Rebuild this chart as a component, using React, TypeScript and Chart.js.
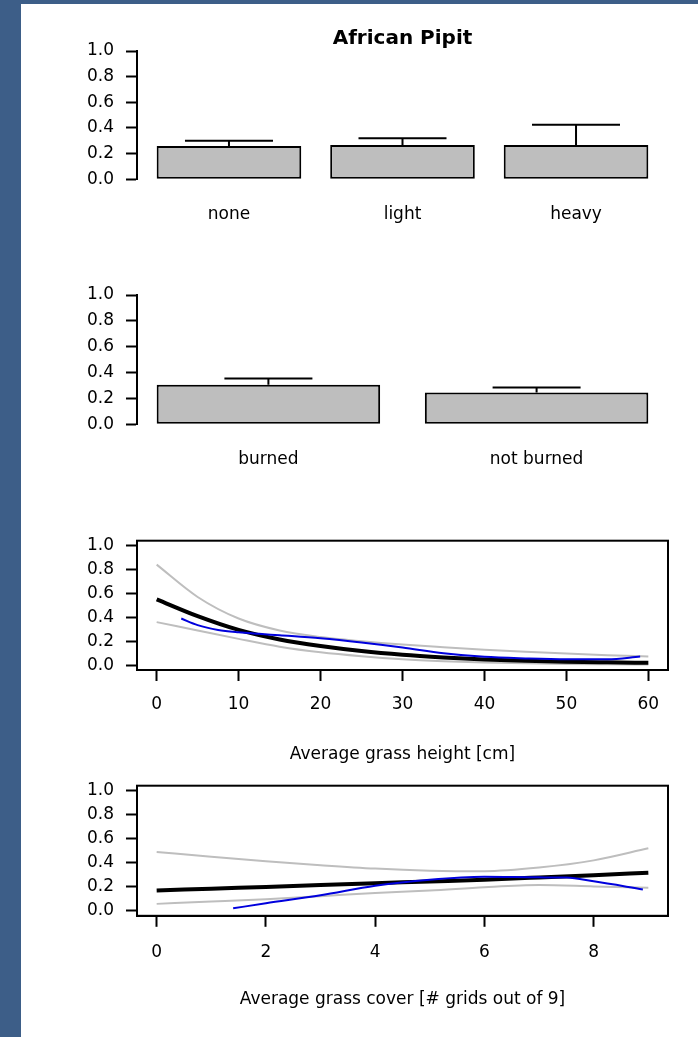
import React, { useEffect, useRef } from 'react';
import { Chart, registerables } from 'chart.js';

Chart.register(...registerables);

const FONT = '"DejaVu Sans", "Liberation Sans", sans-serif';
const PAGE_TITLE = 'African Pipit';

// Panel 1: grazing intensity
const grazingCategories = ['none', 'light', 'heavy'];
const grazingMeans = [0.26, 0.268, 0.268];
const grazingUpper = [0.3, 0.32, 0.425];

// Panel 2: fire
const fireCategories = ['burned', 'not burned'];
const fireMeans = [0.305, 0.245];
const fireUpper = [0.355, 0.285];

const probTicks = [0, 0.2, 0.4, 0.6, 0.8, 1.0];

// Panel 3: grass height
const heightX = [0, 5, 10, 15, 20, 25, 30, 35, 40, 45, 50, 55, 60];
const heightFit = [0.55, 0.41, 0.295, 0.215, 0.16, 0.118, 0.087, 0.065, 0.048, 0.037, 0.029, 0.024, 0.02];
const heightUpper = [0.84, 0.57, 0.39, 0.29, 0.235, 0.2, 0.172, 0.15, 0.13, 0.112, 0.097, 0.084, 0.073];
const heightLower = [0.36, 0.29, 0.22, 0.155, 0.108, 0.075, 0.05, 0.034, 0.023, 0.016, 0.011, 0.008, 0.006];
const heightObsX = [3, 5, 7.5, 10, 12.5, 15, 20, 25, 30, 35, 40, 45, 50, 55, 59];
const heightObs = [0.39, 0.335, 0.295, 0.275, 0.262, 0.25, 0.225, 0.19, 0.148, 0.1, 0.07, 0.057, 0.05, 0.05, 0.072];
const heightTicks = [0, 10, 20, 30, 40, 50, 60];
const heightTitle = 'Average grass height [cm]';

// Panel 4: grass cover
const coverX = [0, 1, 2, 3, 4, 5, 6, 7, 8, 9];
const coverFit = [0.17, 0.185, 0.2, 0.215, 0.23, 0.245, 0.26, 0.278, 0.297, 0.318];
const coverUpper = [0.49, 0.45, 0.413, 0.38, 0.352, 0.335, 0.33, 0.36, 0.42, 0.52];
const coverLower = [0.059, 0.078, 0.098, 0.123, 0.15, 0.17, 0.198, 0.215, 0.204, 0.193];
const coverObsX = [1.4, 2, 3, 4, 5, 6, 7, 7.5, 8, 8.9];
const coverObs = [0.022, 0.064, 0.13, 0.21, 0.26, 0.284, 0.279, 0.277, 0.246, 0.179];
const coverTicks = [0, 2, 4, 6, 8];
const coverTitle = 'Average grass cover [# grids out of 9]';

Chart.defaults.font.family = FONT;
Chart.defaults.font.size = 17;
Chart.defaults.color = '#000';

const Y_AXIS_WIDTH = 116;
const PAD_LEFT = 21;
const PAD_RIGHT = 30;

const errorBarPlugin = {
  id: 'errorBars',
  afterDatasetsDraw(chart: any, _args: any, opts: any) {
    const upper: number[] | undefined = opts && opts.upper;
    if (!upper) return;
    const meta = chart.getDatasetMeta(0);
    const y = chart.scales.y;
    const ctx = chart.ctx;
    ctx.save();
    ctx.strokeStyle = '#000';
    ctx.lineWidth = 2;
    meta.data.forEach((bar: any, i: number) => {
      const cap = y.getPixelForValue(upper[i]);
      ctx.beginPath();
      ctx.moveTo(bar.x, bar.y);
      ctx.lineTo(bar.x, cap);
      ctx.moveTo(bar.x - 44, cap);
      ctx.lineTo(bar.x + 44, cap);
      ctx.stroke();
    });
    ctx.restore();
  },
};

const pageTitlePlugin = {
  id: 'pageTitle',
  afterDraw(chart: any, _args: any, opts: any) {
    if (!opts || !opts.text) return;
    const { left, right } = chart.chartArea;
    const ctx = chart.ctx;
    ctx.save();
    ctx.font = `bold 20px ${FONT}`;
    ctx.fillStyle = '#000';
    ctx.textAlign = 'center';
    ctx.textBaseline = 'alphabetic';
    ctx.fillText(opts.text, (left + right) / 2, opts.baseline);
    ctx.restore();
  },
};

const boxPlugin = {
  id: 'plotBox',
  afterDatasetsDraw(chart: any, _args: any, opts: any) {
    if (!opts || !opts.show) return;
    const { left, top, right, bottom } = chart.chartArea;
    const ctx = chart.ctx;
    ctx.save();
    ctx.strokeStyle = '#000';
    ctx.lineWidth = 2;
    ctx.strokeRect(left, top, right - left, bottom - top);
    ctx.restore();
  },
};

function probAxis(min: number, max: number) {
  return {
    type: 'linear',
    min,
    max,
    afterBuildTicks: (s: any) => {
      s.ticks = probTicks.map((v) => ({ value: v }));
    },
    afterFit: (s: any) => {
      s.width = Y_AXIS_WIDTH;
      s.paddingTop = 0;
      s.paddingBottom = 0;
    },
    grid: { display: true, drawOnChartArea: false, drawTicks: true, tickLength: 11, tickColor: '#000', tickWidth: 2 },
    border: { display: true, color: '#000', width: 2 },
    ticks: { autoSkip: false, padding: 12, color: '#000', callback: (v: any) => Number(v).toFixed(1) },
  };
}

function barConfig(cats: string[], means: number[], upper: number[], padTop: number, xHeight: number, labelPad: number, title?: string) {
  // R barplot layout: width 1, space 0.2
  const pos = cats.map((_, i) => 0.7 + 1.2 * i);
  const lo = 0.2;
  const hi = 1.2 * cats.length;
  const ext = 0.04 * (hi - lo);
  return {
    type: 'bar',
    data: {
      datasets: [
        {
          data: pos.map((x, i) => ({ x, y: means[i] })),
          backgroundColor: '#BEBEBE',
          borderColor: '#000',
          borderWidth: 2,
          borderSkipped: false,
          barPercentage: 1 / 1.2,
          categoryPercentage: 1,
        },
      ],
    },
    options: {
      responsive: false,
      maintainAspectRatio: false,
      animation: false,
      events: [],
      layout: { padding: { top: padTop, left: PAD_LEFT, right: PAD_RIGHT, bottom: 0 } },
      plugins: {
        legend: { display: false },
        tooltip: { enabled: false },
        errorBars: { upper },
        pageTitle: { text: title, baseline: 44 },
      },
      scales: {
        x: {
          type: 'linear',
          min: lo - ext,
          max: hi + ext,
          offset: false,
          afterBuildTicks: (s: any) => {
            s.ticks = pos.map((v) => ({ value: v }));
          },
          afterFit: (s: any) => {
            s.height = xHeight;
            s.paddingLeft = 0;
            s.paddingRight = 0;
          },
          grid: { display: false, drawTicks: false },
          border: { display: false },
          ticks: { autoSkip: false, maxRotation: 0, padding: labelPad, color: '#000', callback: (_v: any, i: number) => cats[i] },
        },
        y: probAxis(0, 1),
      },
    },
    plugins: [errorBarPlugin, pageTitlePlugin],
  };
}

function pts(xs: number[], ys: number[]) {
  return xs.map((x, i) => ({ x, y: ys[i] }));
}

function lineConfig(
  xs: number[], fit: number[], up: number[], low: number[], obsX: number[], obs: number[],
  xTicks: number[], axisTitle: string, padTop: number, xHeight: number, labelPad: number, titlePad: number
) {
  const xmin = Math.min(...xs);
  const xmax = Math.max(...xs);
  const ext = 0.04 * (xmax - xmin);
  const common = { pointRadius: 0, fill: false, cubicInterpolationMode: 'monotone' };
  return {
    type: 'line',
    data: {
      datasets: [
        { ...common, data: pts(obsX, obs), borderColor: '#0000DD', borderWidth: 2 },
        { ...common, data: pts(xs, fit), borderColor: '#000', borderWidth: 4 },
        { ...common, data: pts(xs, up), borderColor: '#BEBEBE', borderWidth: 2 },
        { ...common, data: pts(xs, low), borderColor: '#BEBEBE', borderWidth: 2 },
      ],
    },
    options: {
      responsive: false,
      maintainAspectRatio: false,
      animation: false,
      events: [],
      layout: { padding: { top: padTop, left: PAD_LEFT, right: PAD_RIGHT, bottom: 0 } },
      plugins: { legend: { display: false }, tooltip: { enabled: false }, plotBox: { show: true } },
      scales: {
        x: {
          type: 'linear',
          min: xmin - ext,
          max: xmax + ext,
          afterBuildTicks: (s: any) => {
            s.ticks = xTicks.map((v) => ({ value: v }));
          },
          afterFit: (s: any) => {
            s.height = xHeight;
            s.paddingLeft = 0;
            s.paddingRight = 0;
          },
          grid: { display: true, drawOnChartArea: false, drawTicks: true, tickLength: 11, tickColor: '#000', tickWidth: 2 },
          border: { display: true, color: '#000', width: 2 },
          ticks: { autoSkip: false, maxRotation: 0, padding: labelPad, color: '#000', callback: (v: any) => String(v) },
          title: { display: true, text: axisTitle, color: '#000', font: { size: 17 }, padding: { top: 0, bottom: titlePad } },
        },
        y: probAxis(-0.04, 1.04),
      },
    },
    plugins: [boxPlugin],
  };
}

function ChartPanel({ top, height, build }: { top: number; height: number; build: () => any }) {
  const ref = useRef<HTMLCanvasElement>(null);
  useEffect(() => {
    const chart = new Chart(ref.current as HTMLCanvasElement, build() as any);
    return () => chart.destroy();
  }, []);
  return (
    <canvas
      ref={ref}
      width={698}
      height={height}
      style={{ position: 'absolute', left: 0, top, width: 698, height }}
    />
  );
}

export default function App() {
  return (
    <div style={{ position: 'fixed', left: 0, top: 0, width: 698, height: 1037, background: '#3D5E88', overflow: 'hidden' }}>
      <div style={{ position: 'absolute', left: 21, top: 4, right: 0, bottom: 0, background: '#FFFFFF' }} />
      <ChartPanel
        top={0}
        height={262}
        build={() => barConfig(grazingCategories, grazingMeans, grazingUpper, 51, 82.7, 25.5, PAGE_TITLE)}
      />
      <ChartPanel
        top={262}
        height={258}
        build={() => barConfig(fireCategories, fireMeans, fireUpper, 33, 95.7, 25.5)}
      />
      <ChartPanel
        top={520}
        height={258}
        build={() => lineConfig(heightX, heightFit, heightUpper, heightLower, heightObsX, heightObs, heightTicks, heightTitle, 20.7, 108, 13.8, 12.8)}
      />
      <ChartPanel
        top={778}
        height={259}
        build={() => lineConfig(coverX, coverFit, coverUpper, coverLower, coverObsX, coverObs, coverTicks, coverTitle, 7.7, 121.2, 15.8, 26.8)}
      />
    </div>
  );
}
